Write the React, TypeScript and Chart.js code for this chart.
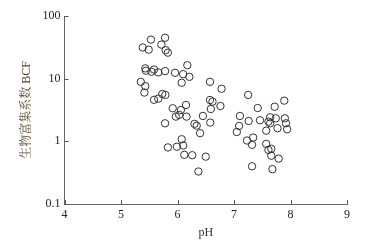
import React, { useEffect, useRef } from "react";
import { Chart, registerables } from "chart.js";

Chart.register(...registerables);

const phValues = [
  5.385, 5.53, 5.49, 5.78, 5.715, 5.79, 5.83, 5.43, 5.44, 5.54,
  5.585, 5.66, 5.78, 5.956, 6.174, 6.10, 6.21, 6.074, 5.35, 5.43,
  5.414, 5.585, 5.66, 5.73, 5.785, 5.78, 5.915, 5.97, 6.03, 6.06,
  6.15, 6.16, 6.30, 6.34, 6.45, 6.58, 6.40, 6.575, 6.78, 6.575,
  6.62, 6.59, 6.76, 6.074, 6.10, 5.99, 5.83, 6.12, 6.26, 6.50,
  6.37, 7.25, 7.42, 7.105, 7.26, 7.46, 7.09, 7.05, 7.23, 7.34,
  7.32, 7.32, 7.64, 7.72, 7.89, 7.74, 7.90, 7.92, 7.64, 7.77,
  7.94, 7.57, 7.61, 7.57, 7.66, 7.61, 7.66, 7.79, 7.68,
];
const bcfValues = [
  31.4, 42, 29, 45, 35, 28.5, 26, 14.6, 13.4, 12.9,
  14, 12.6, 13.2, 12.4, 16.4, 11.8, 10.7, 8.6, 8.9, 7.6,
  6.0, 4.6, 4.8, 5.7, 5.5, 1.94, 3.37, 2.48, 2.64, 3.16,
  3.8, 2.48, 1.9, 1.78, 2.54, 1.99, 1.35, 8.9, 6.9, 4.56,
  4.3, 3.28, 3.66, 1.08, 0.86, 0.82, 0.80, 0.61, 0.60, 0.57,
  0.33, 5.5, 3.4, 2.54, 2.11, 2.17, 1.76, 1.41, 1.03, 1.15,
  0.88, 0.40, 2.42, 3.57, 4.46, 2.33, 2.33, 1.94, 1.94, 1.62,
  1.56, 1.48, 2.06, 0.91, 0.76, 0.73, 0.59, 0.53, 0.36,
];
const xTicks = [4, 5, 6, 7, 8, 9];
const yTicks = [0.1, 1, 10, 100];
const yTickLabels = ["0.1", "1", "10", "100"];
const xTitle = "pH";
const yTitle = "生物富集系数 BCF";

const FONT = "'Liberation Serif', 'Noto Serif CJK SC', 'Noto Sans CJK SC', serif";

const innerTicks = {
  id: "innerTicks",
  afterDraw(chart: any) {
    const { ctx, chartArea } = chart;
    const xs = chart.scales.x;
    const ys = chart.scales.y;
    ctx.save();
    ctx.strokeStyle = "#555";
    ctx.lineWidth = 1;
    ctx.beginPath();
    xTicks.forEach((v) => {
      const px = Math.round(xs.getPixelForValue(v)) + 0.5;
      ctx.moveTo(px, chartArea.bottom);
      ctx.lineTo(px, chartArea.bottom - 4);
    });
    yTicks.forEach((v) => {
      const py = Math.round(ys.getPixelForValue(v)) + 0.5;
      ctx.moveTo(chartArea.left, py);
      ctx.lineTo(chartArea.left + 4, py);
    });
    ctx.stroke();
    ctx.restore();
  },
};

export default function App() {
  const ref = useRef<HTMLCanvasElement>(null);
  useEffect(() => {
    document.body.style.margin = "0";
    const data = phValues.map((x, i) => ({ x, y: bcfValues[i] }));
    const chart = new Chart(ref.current!, {
      type: "scatter",
      data: {
        datasets: [
          {
            data,
            pointRadius: 3.7,
            pointBorderWidth: 1,
            pointBorderColor: "#333",
            pointBackgroundColor: "rgba(255,255,255,0)",
            pointStyle: "circle",
          },
        ],
      },
      options: {
        animation: false,
        responsive: false,
        maintainAspectRatio: false,
        layout: { padding: { left: 0, top: 16, right: 34, bottom: 0 } },
        plugins: { legend: { display: false }, tooltip: { enabled: false } },
        scales: {
          x: {
            type: "linear",
            min: 4,
            max: 9,
            afterBuildTicks: (s: any) => {
              s.ticks = xTicks.map((v) => ({ value: v }));
            },
            afterFit: (s: any) => {
              s.height = 40;
            },
            grid: { display: true, drawOnChartArea: false, drawTicks: false },
            border: { display: true, color: "#666", width: 1 },
            ticks: {
              padding: 4,
              color: "#222",
              font: { family: FONT, size: 12 },
              maxRotation: 0,
            },
            title: {
              display: true,
              text: xTitle,
              color: "#333",
              font: { family: FONT, size: 12 },
              padding: { top: 0, bottom: 4 },
            },
          },
          y: {
            type: "logarithmic",
            min: 0.1,
            max: 100,
            afterBuildTicks: (s: any) => {
              s.ticks = yTicks.map((v) => ({ value: v }));
            },
            afterFit: (s: any) => {
              s.width = 64.5;
            },
            grid: { display: true, drawOnChartArea: false, drawTicks: false },
            border: { display: true, color: "#666", width: 1 },
            ticks: {
              padding: 4,
              color: "#222",
              font: { family: FONT, size: 12 },
              callback: (v: any) => {
                const i = yTicks.indexOf(Number(v));
                return i >= 0 ? yTickLabels[i] : "";
              },
            },
            title: {
              display: true,
              text: yTitle,
              color: "#5b4626",
              font: { family: FONT, size: 12 },
              padding: { top: 20, bottom: 0 },
            },
          },
        },
      },
      plugins: [innerTicks],
    });
    return () => chart.destroy();
  }, []);
  return (
    <div style={{ position: "absolute", left: 0, top: 0, width: 381, height: 244, background: "#fff" }}>
      <canvas ref={ref} width={381} height={244} style={{ width: 381, height: 244 }} />
    </div>
  );
}
